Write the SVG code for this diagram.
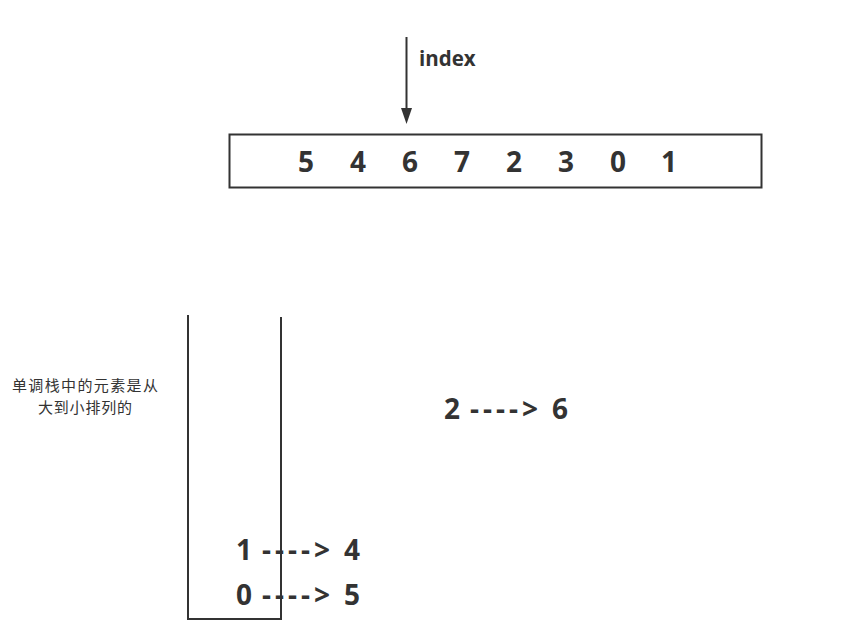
<svg xmlns="http://www.w3.org/2000/svg" width="867" height="642" viewBox="0 0 867 642">
<style>
.ln{stroke:#333;stroke-width:2;fill:none}
.b{font-family:"Open Sans","Noto Sans CJK SC",sans-serif;font-weight:bold;fill:#333}
.num{font-size:28px;text-anchor:middle}
.map{font-size:28px}
.dash{letter-spacing:4px}
.note{font-family:"Noto Sans CJK SC","Noto Sans",sans-serif;font-size:15px;fill:#333}
</style>
<g id="connectors">
<line class="ln" x1="406.5" y1="37" x2="406.5" y2="110"/>
<path d="M401,108 L412,108 L406.5,124 Z" fill="#333"/>
</g>
<g id="index-label"><text class="b" x="419" y="66" font-size="20.5">index</text></g>
<g id="array">
<rect class="ln" x="229.5" y="134.5" width="532" height="53"/>
<text class="b num" x="306" y="172">5</text>
<text class="b num" x="358" y="172">4</text>
<text class="b num" x="410" y="172">6</text>
<text class="b num" x="462" y="172">7</text>
<text class="b num" x="514" y="172">2</text>
<text class="b num" x="566" y="172">3</text>
<text class="b num" x="618" y="172">0</text>
<text class="b num" x="669" y="172">1</text>
</g>
<g id="stack">
<path class="ln" d="M188,315 L188,619 L281,619 L281,317"/>
</g>
<g id="note">
<text class="note" x="12" y="391" textLength="146" lengthAdjust="spacing">单调栈中的元素是从</text>
<text class="note" x="38" y="413" textLength="94" lengthAdjust="spacing">大到小排列的</text>
</g>
<g id="map1"><text class="b map" y="560"><tspan x="236">1</tspan><tspan class="dash" x="262">----</tspan><tspan x="314">&gt;</tspan><tspan x="344">4</tspan></text></g>
<g id="map0"><text class="b map" y="605"><tspan x="236">0</tspan><tspan class="dash" x="262">----</tspan><tspan x="314">&gt;</tspan><tspan x="344">5</tspan></text></g>
<g id="map2"><text class="b map" y="419"><tspan x="444">2</tspan><tspan class="dash" x="470">----</tspan><tspan x="522">&gt;</tspan><tspan x="552">6</tspan></text></g>
</svg>
